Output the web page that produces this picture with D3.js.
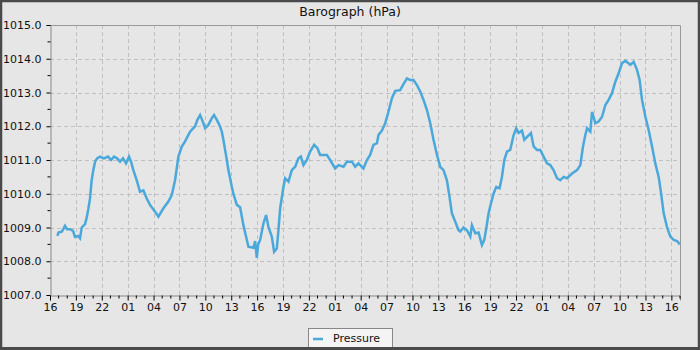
<!DOCTYPE html>
<html>
<head>
<meta charset="utf-8">
<script src="https://cdn.jsdelivr.net/npm/d3@7"></script>
<style>
  html, body { margin: 0; padding: 0; background: #e6e6e6; }
  svg { display: block; font-family: "DejaVu Sans", sans-serif; }
</style>
</head>
<body>
<svg id="chart" width="700" height="350"></svg>
<script>
// ---- data ----
const title = "Barograph (hPa)";
const seriesName = "Pressure";
// hours since 16:00 on the first day
const hours = [0.85,0.99,1.39,1.74,1.97,2.32,2.67,2.90,3.25,3.48,3.68,4.06,4.26,4.44,4.64,4.83,5.02,5.22,5.45,5.80,
6.26,6.72,7.07,7.42,7.77,8.12,8.46,8.81,9.16,9.39,9.66,10.05,10.43,10.82,11.21,11.59,12.17,12.56,13.14,13.72,
14.11,14.49,14.88,15.27,15.65,16.23,16.81,17.08,17.39,17.70,17.97,18.35,18.75,19.01,19.33,19.63,19.91,20.09,20.29,20.49,
20.67,20.87,21.07,21.25,21.65,22.03,22.41,22.81,22.99,23.57,23.77,23.96,24.12,24.35,24.73,25.04,25.31,25.70,25.97,26.28,
26.47,26.67,27.05,27.25,27.63,28.02,28.41,28.79,29.07,29.37,29.76,30.14,30.61,30.99,31.30,32.08,32.46,33.04,33.43,34.01,
34.40,34.98,35.36,35.75,36.32,36.72,37.10,37.48,37.88,38.06,38.46,38.84,39.22,39.62,40.00,40.58,40.89,41.36,41.74,42.12,
42.52,42.90,43.28,43.68,44.06,44.44,44.84,45.22,45.60,45.99,46.30,46.57,46.96,47.34,47.54,47.92,48.31,48.70,48.89,49.28,
49.66,50.05,50.32,50.55,50.82,51.10,51.40,51.71,52.09,52.37,52.64,52.95,53.33,53.72,54.03,54.30,54.69,54.96,55.34,55.73,
56.04,56.43,56.81,57.19,57.59,57.97,58.35,58.75,59.13,59.51,59.91,60.49,61.07,61.45,61.76,62.03,62.23,62.61,62.81,63.19,
63.57,63.97,64.35,64.73,65.12,65.51,65.89,66.28,66.67,67.25,67.63,68.02,68.32,68.60,68.99,69.37,69.76,70.14,70.53,70.81,
71.11,71.50,71.88,72.27,72.66,72.98];
const pressure = [1008.75,1008.85,1008.88,1009.05,1008.95,1008.95,1008.9,1008.72,1008.75,1008.68,1009.0,1009.1,1009.3,1009.55,1009.87,1010.4,1010.7,1010.95,1011.05,1011.1,
1011.05,1011.1,1011.0,1011.1,1011.05,1010.95,1011.05,1010.9,1011.1,1010.95,1010.7,1010.4,1010.06,1010.1,1009.86,1009.67,1009.47,1009.32,1009.57,1009.77,
1009.96,1010.4,1011.1,1011.4,1011.55,1011.84,1012.0,1012.19,1012.33,1012.14,1011.94,1012.04,1012.24,1012.33,1012.19,1012.04,1011.84,1011.6,1011.3,1011.0,
1010.7,1010.46,1010.2,1010.0,1009.67,1009.6,1009.07,1008.63,1008.43,1008.4,1008.6,1008.1,1008.5,1008.63,1009.12,1009.37,1009.02,1008.73,1008.28,1008.38,
1008.92,1009.57,1010.2,1010.46,1010.36,1010.7,1010.8,1011.05,1011.1,1010.85,1011.0,1011.25,1011.45,1011.35,1011.15,1011.15,1011.0,1010.75,1010.85,1010.8,
1010.95,1010.95,1010.8,1010.9,1010.75,1011.0,1011.15,1011.45,1011.5,1011.74,1011.87,1012.09,1012.43,1012.83,1013.05,1013.07,1013.22,1013.42,1013.37,1013.37,
1013.22,1013.03,1012.78,1012.48,1012.09,1011.6,1011.15,1010.8,1010.7,1010.4,1009.9,1009.42,1009.17,1008.92,1008.88,1009.0,1008.92,1008.73,1009.07,1008.83,
1008.85,1008.48,1008.63,1008.97,1009.42,1009.72,1010.01,1010.2,1010.16,1010.5,1011.0,1011.25,1011.3,1011.74,1011.94,1011.8,1011.87,1011.6,1011.7,1011.8,
1011.4,1011.3,1011.3,1011.1,1010.9,1010.85,1010.7,1010.46,1010.4,1010.5,1010.46,1010.6,1010.7,1010.85,1011.4,1011.74,1011.94,1011.84,1012.43,1012.09,
1012.14,1012.28,1012.63,1012.78,1012.98,1013.32,1013.57,1013.87,1013.94,1013.82,1013.91,1013.67,1013.37,1012.78,1012.28,1011.89,1011.4,1010.9,1010.5,1010.01,
1009.42,1009.0,1008.73,1008.63,1008.6,1008.5];
const xTickLabels = ["16","19","22","01","04","07","10","13","16","19","22","01","04","07","10","13","16","19","22","01","04","07","10","13","16"];
const yTickLabels = ["1007.0","1008.0","1009.0","1010.0","1011.0","1012.0","1013.0","1014.0","1015.0"];
const xDomain = [0, 73];
const yDomain = [1007, 1015];

// ---- layout ----
const W = 700, H = 350;
const m = {left: 50, right: 20, top: 25, bottom: 55};
const svg = d3.select("#chart");

svg.append("rect").attr("x", 0).attr("y", 0).attr("width", W).attr("height", H).attr("fill", "#e6e6e6");

const x = d3.scaleLinear().domain(xDomain).range([m.left, W - m.right]);
const y = d3.scaleLinear().domain(yDomain).range([H - m.bottom, m.top]);

const xMajor = d3.range(0, 73, 3);
const xMinor = d3.range(0, 74, 1).filter(v => v % 3 !== 0);
const yMajor = d3.range(1007, 1015.01, 1);
const yMinor = d3.range(1007.5, 1015, 1);

// grid
const grid = svg.append("g").attr("stroke", "#c0c0c0").attr("stroke-width", 1).attr("stroke-dasharray", "4,3");
grid.selectAll(".gx").data(xMajor.slice(1)).join("line")
  .attr("x1", d => Math.round(x(d)) + 0.5).attr("x2", d => Math.round(x(d)) + 0.5)
  .attr("y1", m.top).attr("y2", H - m.bottom);
grid.selectAll(".gy").data(yMajor.slice(1, -1)).join("line")
  .attr("y1", d => Math.round(y(d)) + 0.5).attr("y2", d => Math.round(y(d)) + 0.5)
  .attr("x1", m.left).attr("x2", W - m.right);

// plot border (top / right)
svg.append("path")
  .attr("d", `M${m.left},${m.top + 0.5}H${W - m.right + 0.5}V${H - m.bottom}`)
  .attr("fill", "none").attr("stroke", "#999").attr("stroke-width", 1);

// axes
const xAxis = d3.axisBottom(x).tickValues(xMajor).tickSize(5).tickPadding(3)
  .tickFormat((d, i) => xTickLabels[i]);
const gx = svg.append("g").attr("transform", `translate(0,${H - m.bottom + 0.5})`).call(xAxis);
gx.append("g").selectAll("line").data(xMinor).join("line")
  .attr("x1", d => x(d)).attr("x2", d => x(d)).attr("y1", 0).attr("y2", 3).attr("stroke", "#000");

const yAxis = d3.axisLeft(y).tickValues(yMajor).tickSize(4).tickPadding(5)
  .tickFormat((d, i) => yTickLabels[i]);
const gy = svg.append("g").attr("transform", `translate(${m.left + 0.5},0)`).call(yAxis);
gy.append("g").selectAll("line").data(yMinor).join("line")
  .attr("y1", d => y(d)).attr("y2", d => y(d)).attr("x1", 0).attr("x2", -3).attr("stroke", "#000");

[gx, gy].forEach(g => {
  g.select(".domain").attr("stroke", "#888");
  g.selectAll("text").attr("font-size", 11).attr("fill", "#111").attr("font-family", "DejaVu Sans, sans-serif");
});

// line
const data = hours.map((h, i) => ({h, p: pressure[i]}));
svg.append("path").datum(data)
  .attr("fill", "none").attr("stroke", "#4aa8da").attr("stroke-width", 2.5)
  .attr("stroke-linejoin", "miter")
  .attr("d", d3.line().x(d => x(d.h)).y(d => y(d.p)).curve(d3.curveLinear));

// title
svg.append("text").attr("x", 350).attr("y", 16).attr("text-anchor", "middle")
  .attr("font-size", 12.5).attr("fill", "#111").text(title);

// legend
const lg = svg.append("g");
lg.append("rect").attr("x", 308.5).attr("y", 328.5).attr("width", 84).attr("height", 24)
  .attr("fill", "#f4f4f4").attr("stroke", "#888");
lg.append("line").attr("x1", 313).attr("x2", 323).attr("y1", 339).attr("y2", 339)
  .attr("stroke", "#4aa8da").attr("stroke-width", 2.5);
lg.append("text").attr("x", 333).attr("y", 341.5).attr("font-size", 11).attr("fill", "#111").text(seriesName);

// outer border
svg.append("rect").attr("x", 1).attr("y", 1).attr("width", W - 2).attr("height", H - 2)
  .attr("fill", "none").attr("stroke", "#4a4a4a").attr("stroke-width", 2.5);
svg.append("rect").attr("x", 0).attr("y", H - 3).attr("width", W).attr("height", 3).attr("fill", "#4a4a4a");
</script>
</body>
</html>
